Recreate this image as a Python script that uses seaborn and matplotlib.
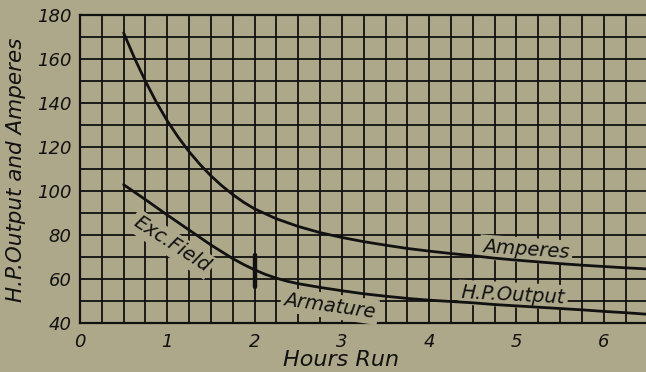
import matplotlib
matplotlib.use("Agg")
import matplotlib.pyplot as plt
from matplotlib.ticker import MultipleLocator
import seaborn as sns
import pandas as pd

# ---- data ----
amp_hours = [0.5, 0.625, 0.75, 0.875, 1.0, 1.125, 1.25, 1.375, 1.5, 1.625, 1.75, 1.875,
             2.0, 2.25, 2.5, 2.75, 3.0, 3.25, 3.5, 3.75, 4.0, 4.25, 4.5, 4.75, 5.0,
             5.25, 5.5, 5.75, 6.0, 6.25, 6.5]
amperes = [172, 160.5, 150, 140.5, 132, 124.6, 118, 112.2, 107, 102.5, 98.5, 95.0,
           92, 87.5, 84, 81.2, 79, 77.1, 75.5, 74.0, 72.8, 71.7, 70.7, 69.6, 68.7,
           67.9, 67.1, 66.4, 65.8, 65.2, 64.7]
hp_hours = [0.5, 0.75, 1.0, 1.25, 1.5, 1.75, 1.875, 2.0, 2.125, 2.25, 2.375, 2.5,
            2.75, 3.0, 3.25, 3.5, 3.75, 4.0, 4.25, 4.5, 4.75, 5.0, 5.25, 5.5, 5.75,
            6.0, 6.25, 6.5]
hp_output = [103, 96.2, 89.2, 82.4, 75.6, 69.4, 66.7, 64.3, 62.2, 60.5, 59.1, 58.0,
             56.3, 54.8, 53.4, 52.3, 51.3, 50.5, 49.9, 49.3, 48.5, 47.9, 47.3, 46.7,
             46.1, 45.4, 44.8, 44.1]
x_ticks = [0, 1, 2, 3, 4, 5, 6]
x_tick_labels = ["0", "1", "2", "3", "4", "5", "6"]
y_ticks = [40, 60, 80, 100, 120, 140, 160, 180]
y_tick_labels = ["40", "60", "80", "100", "120", "140", "160", "180"]
marker_x = [2.0, 2.0]
marker_y = [71, 56.6]
x_label = "Hours Run"
y_label = "H.P.Output and Amperes"
curve_labels = ["Amperes", "H.P.Output", "Armature", "Exc.Field"]

bg = "#aea88b"
ink = "#111111"

sns.set_theme(style="white")
plt.rcParams["font.family"] = ["DejaVu Sans"]

fig = plt.figure(figsize=(6.46, 3.72), dpi=100, facecolor=bg)
ax = fig.add_axes([0.1238, 0.131, 0.8784, 0.828])
ax.set_facecolor(bg)

df = pd.DataFrame({"hours": amp_hours + hp_hours,
                   "value": amperes + hp_output,
                   "series": ["Amperes"] * len(amp_hours) + ["H.P.Output"] * len(hp_hours)})
sns.lineplot(data=df, x="hours", y="value", units="series", estimator=None,
             color=ink, lw=2.0, ax=ax, zorder=5, legend=False)
sns.lineplot(x=marker_x, y=marker_y, color=ink, lw=3.2, ax=ax, zorder=5,
             legend=False, estimator=None)

ax.set_xlim(0, 6.5)
ax.set_ylim(40, 180)
ax.xaxis.set_minor_locator(MultipleLocator(0.25))
ax.yaxis.set_minor_locator(MultipleLocator(10))
ax.set_xticks(x_ticks)
ax.set_xticklabels(x_tick_labels)
ax.set_yticks(y_ticks)
ax.set_yticklabels(y_tick_labels)
ax.grid(which="both", color=ink, lw=1.3)
ax.set_axisbelow(True)
ax.tick_params(which="both", length=0)
ax.tick_params(axis="x", pad=7, labelsize=13, labelcolor=ink)
ax.tick_params(axis="y", pad=6, labelsize=13, labelcolor=ink)
for lab in ax.get_xticklabels() + ax.get_yticklabels():
    lab.set_fontstyle("italic")
for s in ax.spines.values():
    s.set_color(ink)
    s.set_linewidth(1.6)

ax.set_xlabel(x_label, fontsize=16, style="italic", color=ink)
ax.xaxis.set_label_coords(0.46, -0.119)
ax.xaxis.label.set_va("center")
ax.set_ylabel(y_label, fontsize=15.5, style="italic", color=ink)
ax.yaxis.set_label_coords(-0.113, 0.5)
ax.yaxis.label.set_va("center")

box = dict(boxstyle="square,pad=0.15", fc=bg, ec="none")
specs = [
    (curve_labels[0], 5.11, 73.3, -4),
    (curve_labels[1], 4.96, 52.9, -3),
    (curve_labels[2], 2.86, 47.9, -8),
    (curve_labels[3], 1.05, 76.0, -33),
]
for txt, xx, yy, rot in specs:
    ax.text(xx, yy, txt, rotation=rot, rotation_mode="anchor", ha="center",
            va="center", fontsize=14, style="italic", color=ink, bbox=box, zorder=3)

fig.savefig("out.png", dpi=100, facecolor=bg)
